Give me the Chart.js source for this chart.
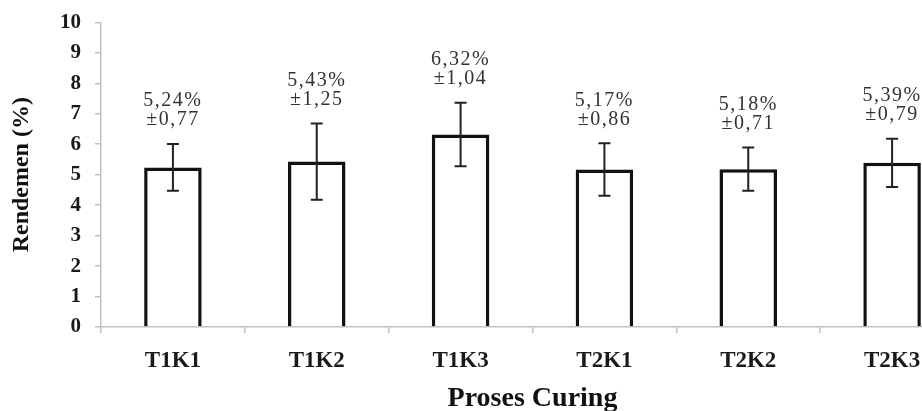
<!DOCTYPE html>
<html>
<head>
<meta charset="utf-8">
<script src="https://cdn.jsdelivr.net/npm/chart.js@4/dist/chart.umd.min.js"></script>
<style>
  html, body { margin: 0; padding: 0; background: #fff; overflow: hidden; width: 922px; height: 411px; }
  #wrap { position: relative; width: 964px; height: 411px; }
</style>
</head>
<body>
<div id="wrap"><canvas id="c"></canvas></div>
<script>
const categories = ["T1K1", "T1K2", "T1K3", "T2K1", "T2K2", "T2K3"];
const means = [5.24, 5.43, 6.32, 5.17, 5.18, 5.39];
const sds = [0.77, 1.25, 1.04, 0.86, 0.71, 0.79];
const yTicks = [0, 1, 2, 3, 4, 5, 6, 7, 8, 9, 10];

const SERIF = "'Liberation Serif', 'Times New Roman', serif";
const fmt = v => v.toFixed(2).replace('.', ',');

const errorBarPlugin = {
  id: 'errorBars',
  afterDatasetsDraw(chart) {
    const ctx = chart.ctx;
    const meta = chart.getDatasetMeta(0);
    const y = chart.scales.y;
    ctx.save();
    meta.data.forEach((bar, i) => {
      const x = bar.x;
      const top = y.getPixelForValue(means[i] + sds[i]);
      const bot = y.getPixelForValue(means[i] - sds[i]);
      ctx.strokeStyle = '#222';
      ctx.lineWidth = 2;
      ctx.beginPath();
      ctx.moveTo(x, top); ctx.lineTo(x, bot);
      ctx.moveTo(x - 6, top); ctx.lineTo(x + 6, top);
      ctx.moveTo(x - 6, bot); ctx.lineTo(x + 6, bot);
      ctx.stroke();
      ctx.fillStyle = '#333';
      ctx.font = "20px " + SERIF;
      try { ctx.letterSpacing = '1.5px'; } catch (e) {}
      ctx.textAlign = 'center';
      ctx.textBaseline = 'middle';
      ctx.fillText(fmt(means[i]) + '%', x, top - 43);
      ctx.fillText('±' + fmt(sds[i]), x, top - 24);
      try { ctx.letterSpacing = '0px'; } catch (e) {}
    });
    ctx.restore();
  }
};

new Chart(document.getElementById('c'), {
  type: 'bar',
  data: {
    labels: categories,
    datasets: [{
      data: means,
      backgroundColor: '#ffffff',
      borderColor: '#111111',
      borderWidth: 3.5,
      borderSkipped: 'bottom',
      barPercentage: 0.4,
      categoryPercentage: 1.0
    }]
  },
  options: {
    responsive: true,
    maintainAspectRatio: false,
    animation: false,
    devicePixelRatio: 1,
    layout: { padding: { top: 20, left: 0, right: 0, bottom: 0 } },
    plugins: { legend: { display: false }, tooltip: { enabled: false } },
    scales: {
      x: {
        afterFit(scale) { scale.height = 84; },
        grid: { drawOnChartArea: false, color: '#c0c0c0', tickLength: 6, lineWidth: 1.5 },
        border: { color: '#c0c0c0', width: 1.5 },
        ticks: { color: '#1a1a1a', padding: 14, font: { family: SERIF, size: 23, weight: 'bold' } },
        title: {
          display: true, text: 'Proses Curing', color: '#111',
          padding: { top: 0, bottom: 0 },
          font: { family: SERIF, size: 28, weight: 'bold', lineHeight: 0.85 }
        }
      },
      y: {
        min: 0, max: 10,
        afterFit(scale) { scale.width = 101; },
        afterBuildTicks(scale) { scale.ticks = yTicks.map(v => ({ value: v })); },
        grid: { drawOnChartArea: false, color: '#c0c0c0', tickLength: 6, lineWidth: 1.5 },
        border: { color: '#c0c0c0', width: 1.5 },
        ticks: { color: '#1a1a1a', padding: 14, font: { family: SERIF, size: 21, weight: 'bold', lineHeight: 0.8 } },
        title: {
          display: true, text: 'Rendemen (%)', color: '#111',
          padding: { top: 10, bottom: 0 },
          font: { family: SERIF, size: 24, weight: 'bold', lineHeight: 1.0 }
        }
      }
    }
  },
  plugins: [errorBarPlugin]
});
</script>
</body>
</html>
